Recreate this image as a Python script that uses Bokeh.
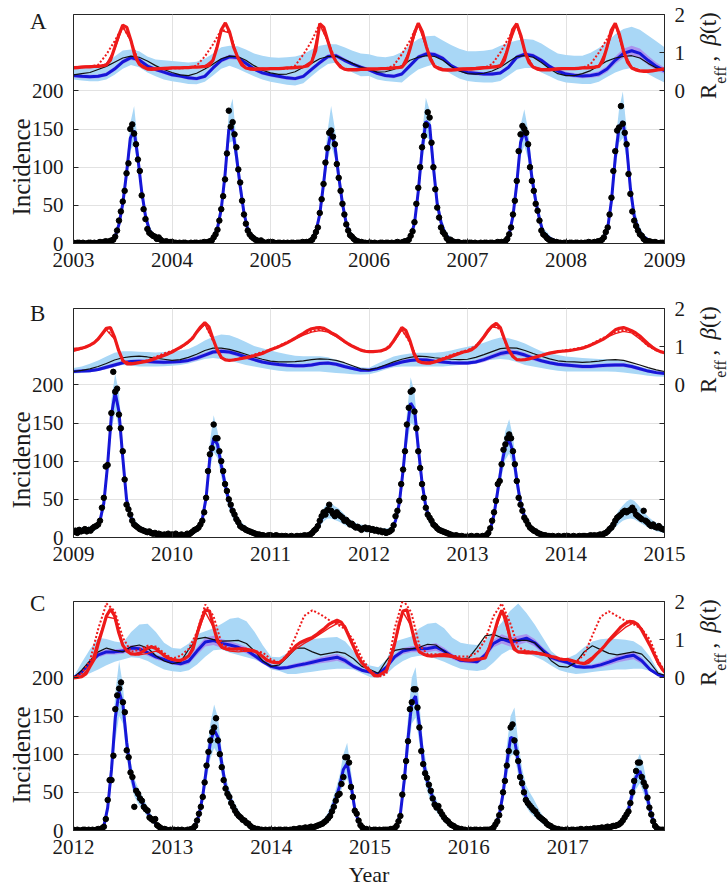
import numpy as np
from bokeh.plotting import figure
from bokeh.models import Range1d, LinearAxis, FixedTicker, Div
from bokeh.layouts import column
from bokeh.embed import file_html
from bokeh.resources import INLINE

# ======================= DATA =======================
# ---- Panel A (2003-2009) ----
A_years = [2003, 2004, 2005, 2006, 2007, 2008, 2009]
A_obs = [
 1,0,1,1,0,1,0,0,1,1,0,1,0,1,2,1,2,3,2,3,4,5,9,17,30,42,55,69,92,105,150,156,144,130,110,95,63,45,32,19,14,12,10,9,6,8,5,3,2,3,1,2,
 2,1,1,0,1,0,1,1,0,0,1,0,1,1,0,1,1,2,1,2,3,4,8,12,18,30,45,62,84,118,174,153,159,143,126,97,80,56,38,26,17,12,9,7,5,4,3,4,2,1,1,2,
 1,2,1,0,1,1,0,1,0,1,0,1,1,0,1,1,1,2,1,2,2,3,5,9,15,21,40,58,78,106,125,145,148,140,130,104,86,69,52,38,25,17,11,9,6,4,3,2,2,1,1,0,
 1,1,0,1,0,0,1,1,0,1,1,0,1,0,1,2,1,1,2,3,3,5,10,16,28,52,73,100,126,141,155,172,165,132,100,71,47,34,21,15,12,7,4,5,3,2,1,2,1,0,1,1,
 0,1,1,0,1,0,0,1,0,1,1,0,1,1,0,1,2,1,2,2,3,6,12,21,38,56,82,121,143,154,150,145,130,100,82,69,52,43,30,17,12,10,7,5,4,3,2,2,1,1,0,1,
 1,0,1,1,0,1,1,0,1,0,1,1,2,1,1,2,2,3,3,5,8,15,21,38,60,95,121,148,152,180,157,145,130,91,65,42,30,23,17,12,10,6,4,3,3,2,1,2,1,0,1,1,
 1]
A_fit = [
 1,1,1,1,1,1,1,1,2,2,3,9,25,52,92,138,148,112,68,36,18,10,6,4,2,1,
 1,1,1,1,1,1,1,1,1,2,3,8,20,45,90,150,150,115,75,40,18,10,6,4,3,2,
 1,1,1,1,1,1,1,1,1,2,3,6,16,38,78,122,146,128,88,52,26,12,7,4,2,1,
 1,1,1,1,1,1,1,1,1,2,4,10,26,68,122,160,155,100,52,28,14,7,4,3,2,1,
 1,1,1,1,1,1,1,1,1,2,4,12,36,78,132,148,128,86,56,32,14,10,6,4,2,1,
 1,1,1,1,1,1,1,1,2,3,8,20,56,112,152,160,128,72,36,20,11,7,4,2,2,1,
 1]
A_band_hi = [
 2,2,2,2,2,2,2,2,3,4,6,14,33,62,105,158,180,130,80,44,24,14,9,6,4,2,
 3,2,2,2,2,2,2,2,2,3,5,12,28,56,105,172,190,135,90,50,25,14,9,6,5,3,
 2,2,2,2,2,2,2,2,2,3,5,10,23,48,92,145,180,150,104,64,35,18,10,6,4,2,
 2,2,2,2,2,2,2,2,2,3,6,15,35,82,142,191,175,118,64,36,20,11,7,5,3,2,
 2,2,2,2,2,2,2,2,2,3,6,17,45,92,155,176,148,102,68,42,20,15,9,6,4,2,
 2,2,2,2,2,2,2,2,3,5,12,27,68,130,176,199,150,88,48,28,16,10,6,4,3,2,
 2]
A_band_lo = [
 0,0,0,0,0,0,0,0,1,1,1,5,18,42,80,122,130,98,58,28,12,6,3,2,1,0,
 0,0,0,0,0,0,0,0,0,1,1,5,14,36,76,132,134,100,62,32,12,6,3,2,1,1,
 0,0,0,0,0,0,0,0,0,1,1,3,10,30,66,106,128,112,74,42,19,7,4,2,1,0,
 0,0,0,0,0,0,0,0,0,1,2,6,19,56,104,140,136,86,42,21,9,4,2,1,1,0,
 0,0,0,0,0,0,0,0,0,1,2,8,28,66,114,128,110,72,46,25,10,6,3,2,1,0,
 0,0,0,0,0,0,0,0,1,2,5,14,44,96,132,138,110,58,28,14,7,4,2,1,1,0,
 0]
A_blue = [
 .40,.38,.37,.38,.43,.57,.76,.87,.81,.65,.56,.49,
 .42,.39,.34,.32,.38,.60,.80,.89,.87,.72,.57,.47,
 .42,.38,.34,.32,.38,.56,.74,.90,.92,.80,.70,.62,
 .55,.46,.40,.38,.44,.66,.88,.97,.95,.85,.66,.55,
 .48,.46,.44,.44,.47,.62,.88,.96,.92,.80,.64,.52,
 .44,.41,.39,.40,.44,.57,.80,.98,1.05,.98,.80,.64,
 .53]
A_black = [
 .42,.45,.48,.56,.64,.75,.86,.91,.88,.78,.66,.56,
 .48,.42,.40,.46,.57,.70,.84,.91,.90,.80,.66,.54,
 .47,.43,.44,.50,.62,.72,.84,.90,.91,.82,.72,.62,
 .57,.49,.50,.56,.66,.80,.88,.92,.90,.80,.64,.52,
 .45,.44,.46,.52,.62,.76,.90,.92,.88,.74,.58,.45,
 .40,.40,.45,.53,.66,.78,.86,.90,.92,.86,.72,.60,
 .53]
A_purple_hw = [
 .05,.05,.05,.05,.05,.06,.06,.06,.06,.06,.05,.05,
 .05,.05,.05,.05,.05,.06,.06,.06,.06,.06,.05,.05,
 .05,.05,.05,.05,.05,.06,.06,.06,.06,.06,.05,.05,
 .05,.05,.05,.05,.05,.06,.06,.06,.06,.06,.05,.05,
 .05,.05,.05,.05,.05,.06,.06,.06,.06,.06,.05,.05,
 .06,.06,.06,.06,.07,.08,.10,.12,.13,.13,.12,.10,
 .08]
A_lb_hi = [
 .60,.62,.64,.66,.72,.90,1.06,1.08,1.04,.90,.82,.80,
 .78,.76,.74,.76,.84,.98,1.14,1.18,1.17,1.08,.98,.92,
 .88,.87,.88,.90,.96,1.08,1.18,1.22,1.22,1.14,1.05,.98,
 .96,.90,.88,.92,1.02,1.20,1.36,1.43,1.44,1.32,1.20,1.10,
 1.04,1.04,1.05,1.08,1.18,1.26,1.32,1.36,1.34,1.24,1.10,.98,
 .94,.92,.92,1.00,1.12,1.28,1.48,1.62,1.68,1.60,1.45,1.30,
 1.14]
A_lb_lo = [
 .30,.27,.25,.25,.30,.42,.58,.68,.62,.48,.38,.30,
 .25,.22,.18,.17,.24,.40,.58,.66,.58,.48,.38,.30,
 .24,.20,.16,.14,.20,.38,.56,.70,.74,.62,.48,.38,
 .39,.30,.26,.24,.22,.40,.56,.64,.70,.58,.44,.32,
 .26,.23,.22,.22,.26,.40,.55,.60,.60,.48,.38,.28,
 .22,.20,.18,.18,.24,.36,.48,.56,.60,.58,.44,.32,
 .22]
A_red = [
 .60,.61,.62,.63,.63,.64,.64,.65,.68,.80,1.12,1.45,1.72,1.66,1.32,.90,.70,.62,.57,.56,.57,.58,.58,.59,
 .60,.60,.60,.61,.61,.62,.62,.63,.64,.66,.80,1.15,1.60,1.78,1.55,1.15,.88,.68,.60,.57,.56,.57,.57,.57,
 .58,.58,.58,.59,.60,.60,.61,.62,.63,.65,.75,1.05,1.76,1.66,1.30,.95,.76,.63,.57,.55,.55,.55,.56,.56,
 .57,.57,.57,.58,.58,.59,.60,.61,.62,.75,1.10,1.50,1.77,1.55,1.15,.82,.64,.58,.55,.54,.54,.55,.56,.57,
 .57,.57,.58,.59,.60,.61,.62,.63,.65,.80,1.18,1.60,1.76,1.45,1.02,.74,.62,.57,.55,.55,.55,.56,.57,.58,
 .58,.58,.58,.59,.60,.60,.61,.62,.64,.78,1.15,1.58,1.77,1.48,1.05,.75,.60,.55,.52,.51,.51,.52,.54,.56,
 .57]
A_red_thin = [
 .63,.64,.65,.66,.70,1.08,1.68,1.30,.72,.60,.60,.61,
 .61,.61,.62,.62,.65,.82,1.58,1.52,.88,.61,.59,.60,
 .59,.60,.60,.61,.64,.78,1.74,1.28,.76,.58,.58,.58,
 .59,.59,.60,.61,.64,1.08,1.74,1.13,.66,.58,.57,.59,
 .60,.61,.63,.64,.68,1.16,1.74,1.00,.64,.58,.58,.60,
 .60,.60,.61,.62,.66,1.12,1.74,1.03,.62,.55,.54,.57,
 .59]
A_red_dot = [
 .62,.62,.63,.68,.95,1.30,1.68,1.32,.70,.57,.57,.58,
 .59,.59,.60,.66,.90,1.22,1.60,1.55,.88,.60,.56,.57,
 .57,.57,.58,.66,.95,1.30,1.76,1.30,.76,.57,.55,.56,
 .57,.57,.58,.66,.96,1.32,1.77,1.15,.64,.55,.54,.56,
 .58,.58,.60,.70,1.00,1.38,1.76,1.02,.62,.55,.55,.57,
 .58,.58,.60,.70,1.00,1.36,1.77,1.05,.60,.52,.51,.54,
 .57]

# ---- Panel B (2009-2015) ----
B_years = [2009, 2010, 2011, 2012, 2013, 2014, 2015]
B_obs = [
 7,9,6,10,8,9,11,8,10,9,12,14,15,17,22,39,52,93,95,143,163,217,191,195,161,143,113,76,43,37,30,22,17,15,13,11,10,9,8,7,8,6,5,6,4,5,4,3,4,3,5,3,
 4,3,5,2,3,4,2,3,5,4,6,8,10,11,13,17,22,33,52,87,109,117,148,130,130,113,100,87,70,61,50,43,35,30,24,20,15,13,12,10,9,8,7,6,5,4,4,3,3,2,2,3,
 3,2,2,3,2,1,2,1,2,1,1,2,1,1,2,1,2,2,3,2,3,4,6,9,11,15,22,28,33,30,36,43,35,31,28,33,30,28,26,22,23,20,17,18,15,13,14,12,10,12,13,11,
 12,10,11,9,10,8,9,7,8,6,7,8,10,16,28,35,48,70,89,113,148,170,191,193,165,143,113,91,70,52,39,30,26,22,17,15,12,10,9,8,7,6,5,4,3,2,3,2,1,2,1,1,
 1,1,2,1,1,2,1,1,2,2,3,6,12,22,33,48,70,74,96,115,122,130,135,130,113,96,74,52,43,35,26,22,17,13,11,9,8,6,5,4,3,3,2,2,1,2,1,1,2,1,1,2,
 1,2,1,1,2,1,1,2,1,2,2,1,2,3,2,3,2,3,4,3,5,6,8,11,13,17,22,26,28,30,33,35,33,35,36,39,35,30,28,26,24,35,22,20,17,15,17,14,13,15,12,11,
 10]
B_fit = [
 8,8,9,9,10,11,14,22,45,95,160,190,165,105,50,28,18,13,10,8,7,6,5,5,4,4,
 4,4,3,3,4,5,8,13,24,52,105,130,122,95,70,48,34,24,16,12,9,7,5,4,3,3,
 3,2,2,2,2,2,2,2,2,3,4,6,11,20,29,34,34,31,29,25,21,18,15,13,12,11,
 11,10,9,8,8,8,10,22,45,88,140,176,168,118,72,40,25,17,12,9,7,5,4,3,2,1,
 1,1,1,1,1,3,10,30,62,95,120,128,112,76,45,28,18,11,8,5,4,3,2,2,1,1,
 1,1,1,1,1,2,2,2,3,3,5,8,13,20,26,31,34,35,34,30,26,22,18,15,13,11,
 10]
B_band_hi = [
 12,12,13,13,14,15,18,28,55,110,180,215,190,122,62,36,24,18,14,12,10,9,8,7,7,6,
 6,6,5,5,6,7,11,17,30,62,125,160,140,110,82,58,42,31,22,17,13,10,8,6,5,5,
 5,4,4,4,4,4,4,4,4,5,6,9,15,26,38,45,45,41,38,33,28,24,21,18,17,16,
 16,14,13,12,12,12,14,28,55,102,162,210,190,135,85,50,32,23,17,13,10,8,6,5,4,3,
 2,2,2,2,2,5,14,37,74,110,140,155,132,90,55,35,24,15,11,8,6,5,4,3,2,2,
 2,2,2,2,2,3,3,3,5,5,8,12,19,28,36,42,47,50,48,43,37,31,26,22,19,16,
 15]
B_band_lo = [
 5,5,6,6,7,7,10,16,36,80,140,165,142,90,40,21,13,9,7,5,4,4,3,3,2,2,
 2,2,2,2,2,3,5,9,18,42,88,112,104,80,58,38,26,17,11,8,6,4,3,2,2,1,
 1,1,1,1,1,1,1,1,1,1,2,3,7,14,21,25,25,23,21,18,15,13,10,9,8,7,
 7,6,6,5,5,5,7,16,36,74,120,150,146,100,60,31,18,12,8,6,4,3,2,1,1,0,
 0,0,0,0,0,1,6,23,50,80,102,110,94,62,36,21,12,7,5,3,2,1,1,0,0,0,
 0,0,0,0,0,1,1,1,1,1,2,4,8,13,18,22,24,25,24,21,18,15,12,10,8,7,
 6]
B_blue = [
 .35,.36,.37,.40,.46,.52,.58,.61,.62,.61,.60,.59,
 .60,.61,.64,.70,.78,.86,.88,.86,.80,.73,.66,.60,
 .56,.53,.51,.50,.50,.52,.56,.57,.54,.48,.43,.38,
 .38,.42,.48,.54,.60,.64,.66,.65,.62,.60,.58,.57,
 .57,.60,.66,.74,.82,.86,.84,.78,.70,.63,.58,.54,
 .52,.50,.48,.48,.50,.51,.52,.52,.48,.42,.36,.32,
 .30]
B_black = [
 .35,.38,.42,.48,.56,.65,.71,.74,.75,.73,.70,.67,
 .64,.66,.72,.80,.90,.96,.96,.93,.87,.80,.73,.67,
 .62,.60,.60,.61,.63,.66,.68,.67,.64,.58,.50,.42,
 .39,.44,.52,.60,.67,.72,.75,.74,.71,.69,.67,.66,
 .67,.72,.79,.87,.95,.97,.96,.90,.82,.75,.68,.63,
 .61,.60,.59,.60,.62,.65,.66,.64,.58,.52,.45,.39,
 .35]
B_purple_hw = [
 .04,.04,.04,.04,.05,.05,.05,.05,.05,.05,.05,.05,
 .05,.05,.05,.06,.06,.06,.06,.06,.06,.05,.05,.05,
 .05,.05,.05,.05,.05,.05,.05,.05,.05,.05,.04,.04,
 .04,.04,.05,.05,.05,.05,.05,.05,.05,.05,.05,.05,
 .05,.05,.06,.06,.07,.07,.07,.06,.06,.05,.05,.05,
 .05,.05,.05,.05,.05,.05,.05,.05,.05,.05,.04,.04,
 .04]
B_lb_hi = [
 .44,.48,.55,.64,.74,.84,.88,.88,.87,.86,.85,.86,
 .88,.90,.94,1.04,1.16,1.26,1.32,1.30,1.22,1.12,1.02,.96,
 .90,.85,.80,.76,.75,.75,.75,.72,.65,.58,.50,.46,
 .45,.55,.65,.74,.79,.82,.84,.84,.84,.86,.90,.95,
 1.00,1.04,1.10,1.18,1.24,1.22,1.16,1.08,.98,.88,.82,.78,
 .74,.72,.70,.69,.68,.67,.66,.62,.55,.48,.42,.38,
 .35]
B_lb_lo = [
 .30,.31,.33,.36,.42,.48,.52,.50,.48,.48,.48,.49,
 .50,.52,.56,.62,.68,.70,.68,.64,.58,.52,.48,.44,
 .40,.37,.35,.35,.35,.35,.35,.33,.31,.30,.28,.27,
 .28,.33,.40,.46,.48,.48,.48,.48,.48,.48,.50,.52,
 .55,.58,.64,.66,.68,.66,.60,.52,.48,.44,.40,.37,
 .35,.35,.35,.35,.35,.35,.34,.32,.30,.27,.24,.22,
 .21]
B_red = [
 .93,.94,.96,.99,1.04,1.10,1.20,1.34,1.48,1.50,1.25,.90,.64,.55,.55,.56,.58,.60,.62,.65,.69,.73,.77,.81,
 .86,.92,.98,1.05,1.13,1.22,1.38,1.52,1.63,1.52,1.20,.92,.72,.65,.64,.65,.67,.69,.71,.73,.76,.79,.82,.87,
 .92,.96,1.00,1.05,1.10,1.16,1.22,1.29,1.35,1.42,1.47,1.49,1.50,1.48,1.42,1.35,1.30,1.22,1.14,1.07,1.01,.96,.91,.88,
 .87,.87,.88,.89,.93,1.00,1.15,1.32,1.50,1.42,1.15,.80,.62,.58,.57,.57,.60,.63,.67,.71,.74,.78,.82,.86,
 .88,.92,1.00,1.12,1.26,1.42,1.54,1.61,1.50,1.20,.92,.75,.66,.65,.66,.68,.71,.74,.77,.80,.83,.85,.87,.88,
 .89,.90,.92,.94,.96,1.00,1.04,1.09,1.14,1.19,1.26,1.35,1.44,1.48,1.50,1.46,1.42,1.36,1.28,1.18,1.08,.99,.92,.87,
 .84]
B_red_thin = [
 .88,.94,1.02,1.18,1.44,1.20,.62,.57,.60,.64,.72,.80,
 .88,.96,1.10,1.36,1.58,1.18,.70,.65,.68,.72,.78,.85,
 .92,1.00,1.10,1.20,1.30,1.38,1.42,1.38,1.26,1.12,1.00,.91,
 .86,.87,.92,1.12,1.44,1.12,.62,.58,.62,.69,.77,.84,
 .90,1.00,1.24,1.52,1.48,.90,.66,.66,.71,.77,.82,.86,
 .90,.93,.97,1.04,1.14,1.25,1.34,1.40,1.36,1.20,1.02,.90,
 .84]
B_red_dot = [
 .90,.96,1.04,1.20,1.46,1.22,.63,.57,.59,.64,.73,.82,
 .89,.97,1.12,1.38,1.60,1.16,.70,.64,.68,.73,.79,.86,
 .93,1.02,1.12,1.22,1.33,1.41,1.45,1.42,1.30,1.14,1.01,.92,
 .87,.88,.93,1.14,1.46,1.10,.62,.58,.62,.70,.78,.85,
 .91,1.02,1.26,1.54,1.46,.88,.66,.66,.72,.78,.83,.87,
 .91,.94,.98,1.06,1.17,1.28,1.38,1.44,1.40,1.22,1.02,.90,
 .85]

# ---- Panel C (2012-2018) ----
C_years = [2012, 2013, 2014, 2015, 2016, 2017]
C_obs = [
 1,0,1,0,0,1,1,0,1,0,1,0,1,2,1,3,5,15,40,66,66,98,159,177,186,194,168,155,105,96,76,70,31,52,48,42,39,31,28,26,17,15,13,15,7,5,3,2,2,1,0,1,
 0,1,0,1,0,1,0,0,1,1,2,3,6,13,22,31,44,63,85,103,118,129,135,147,118,100,83,66,55,48,44,36,31,26,22,19,17,14,13,10,9,6,4,3,2,2,1,1,0,1,0,1,
 1,0,1,0,1,1,0,1,1,0,1,1,2,1,2,3,2,3,4,3,4,5,4,5,6,7,8,9,11,13,16,19,25,31,39,46,48,61,70,96,96,89,57,44,26,22,13,7,4,2,2,1,
 1,0,1,1,0,1,0,1,1,1,1,2,2,3,6,12,19,47,70,91,117,159,168,185,185,161,135,104,87,75,69,60,52,42,34,30,32,25,21,17,14,12,9,7,6,4,3,2,2,1,1,0,
 0,1,0,1,1,0,1,0,1,1,1,1,2,4,8,12,20,30,50,65,85,104,135,139,118,102,91,70,62,50,40,36,33,30,27,25,21,18,16,14,12,9,7,6,4,3,2,2,1,1,0,1,
 1,0,1,1,0,1,1,2,1,1,2,1,2,2,3,2,3,3,4,3,4,5,4,5,6,6,7,8,10,13,17,21,25,36,50,65,78,89,89,70,63,58,43,30,21,12,6,3,1,1,1,1]
C_fit = [
 1,1,1,1,1,1,1,2,6,30,80,148,182,165,115,78,56,45,37,28,19,13,7,3,2,1,
 1,1,1,1,1,2,6,20,45,82,115,132,122,88,58,44,32,23,17,12,8,5,3,2,1,1,
 1,1,1,1,1,1,2,2,3,3,4,5,6,8,11,17,28,42,58,80,88,60,28,11,4,2,
 1,1,1,1,1,1,2,6,22,65,120,168,176,138,92,66,50,37,28,20,14,9,5,3,2,1,
 1,1,1,1,1,1,3,8,20,48,88,122,120,90,62,44,34,28,22,16,11,7,4,2,1,1,
 1,1,1,1,1,2,2,3,3,4,4,5,6,7,10,16,27,48,70,78,64,42,20,7,2,1]
C_band_hi = [
 2,2,2,2,2,2,2,4,10,42,100,180,222,190,132,92,68,56,46,36,25,17,10,5,3,2,
 2,2,2,2,2,3,9,28,58,100,140,165,148,104,70,54,40,30,22,16,11,7,5,3,2,2,
 2,2,2,2,2,2,3,3,5,5,6,8,9,12,16,24,38,54,72,100,115,78,38,16,7,3,
 2,2,2,2,2,2,3,9,30,82,148,200,214,165,112,82,62,46,35,26,19,12,7,4,3,2,
 2,2,2,2,2,2,5,12,28,62,112,150,161,115,82,60,50,42,32,23,16,10,6,3,2,2,
 2,2,2,2,2,3,3,4,5,6,6,7,8,10,14,22,37,62,88,101,84,58,30,12,4,2]
C_band_lo = [
 0,0,0,0,0,0,0,1,3,20,62,118,150,140,96,64,45,35,29,21,14,9,4,2,1,0,
 0,0,0,0,0,1,3,13,34,66,94,108,100,72,46,35,25,17,12,8,5,3,2,1,0,0,
 0,0,0,0,0,0,1,1,1,1,2,3,3,5,7,11,19,31,45,62,68,45,20,7,2,1,
 0,0,0,0,0,0,1,3,15,50,96,140,148,114,74,52,38,28,21,14,9,6,3,2,1,0,
 0,0,0,0,0,0,1,5,13,36,68,98,100,72,46,32,24,19,15,10,7,4,2,1,0,0,
 0,0,0,0,0,1,1,2,2,2,3,3,4,5,7,11,19,36,54,62,48,30,12,3,1,0]
C_blue = [
 .00,.15,.40,.60,.68,.68,.70,.78,.76,.66,.55,.48,
 .40,.37,.44,.70,.94,.98,.90,.86,.80,.72,.58,.42,
 .30,.25,.27,.32,.36,.41,.46,.50,.54,.45,.30,.20,
 .15,.10,.28,.55,.70,.75,.76,.77,.81,.70,.56,.46,
 .44,.42,.60,.90,1.02,.94,.98,1.04,.92,.72,.54,.46,
 .40,.30,.28,.29,.34,.41,.49,.55,.59,.45,.22,.08,
 .02]
C_black = [
 .00,.20,.45,.68,.78,.72,.68,.82,.86,.78,.58,.44,
 .37,.42,.75,1.02,1.06,1.00,.96,.97,.98,.90,.70,.44,
 .30,.34,.55,.78,.78,.68,.60,.64,.68,.64,.50,.30,
 .22,.12,.45,.72,.76,.76,.80,.88,.86,.70,.54,.50,
 .52,.80,1.10,1.14,1.05,1.00,.98,.98,.92,.70,.45,.30,
 .28,.40,.68,.84,.74,.64,.60,.64,.68,.62,.40,.12,
 .05]
C_purple_hw = [
 .02,.04,.06,.07,.07,.07,.07,.08,.08,.08,.07,.06,
 .06,.06,.08,.10,.12,.12,.12,.10,.09,.08,.07,.06,
 .05,.05,.05,.06,.06,.07,.08,.09,.09,.08,.06,.05,
 .04,.03,.05,.07,.08,.08,.09,.10,.10,.09,.07,.06,
 .06,.06,.08,.10,.12,.12,.12,.11,.10,.08,.07,.06,
 .05,.05,.05,.06,.07,.08,.09,.10,.10,.08,.05,.03,
 .02]
C_lb_hi = [
 .02,.40,.75,1.05,1.02,.95,.92,1.20,1.40,1.42,1.20,.92,
 .78,.76,.90,1.14,1.22,1.30,1.42,1.55,1.58,1.48,1.20,.85,
 .55,.54,.65,.80,.95,1.02,1.04,1.06,1.07,.95,.70,.45,
 .32,.28,.48,.95,1.02,1.08,1.30,1.42,1.44,1.30,1.05,.92,
 .88,.86,1.00,1.22,1.45,1.75,1.95,1.70,1.40,1.05,.70,.52,
 .52,.62,.80,.95,1.01,1.03,1.02,1.00,.96,.82,.55,.18,
 .05]
C_lb_lo = [
 .00,.05,.12,.22,.33,.42,.48,.54,.52,.44,.32,.22,
 .17,.15,.20,.35,.55,.72,.74,.66,.60,.54,.48,.38,
 .22,.18,.10,.10,.13,.16,.19,.22,.24,.24,.22,.12,
 .02,.00,.10,.30,.44,.54,.58,.58,.50,.42,.32,.24,
 .20,.18,.22,.40,.62,.74,.70,.66,.56,.46,.32,.20,
 .14,.10,.12,.15,.18,.20,.22,.22,.24,.24,.18,.05,
 .00]
C_red = [
 .00,.01,.03,.10,.30,.48,.90,1.25,1.62,1.80,1.62,1.18,.85,.70,.63,.62,.64,.70,.78,.81,.77,.68,.58,.52,
 .48,.46,.46,.50,.58,.75,1.15,1.50,1.78,1.75,1.35,.95,.80,.76,.75,.75,.76,.76,.75,.73,.70,.64,.55,.46,
 .42,.40,.40,.48,.60,.72,.84,.92,.97,1.02,1.06,1.13,1.22,1.30,1.40,1.46,1.51,1.46,1.30,1.06,.82,.58,.40,.28,
 .18,.06,.05,.12,.19,.50,.90,1.38,1.75,1.78,1.35,.90,.68,.62,.58,.57,.58,.60,.61,.60,.56,.52,.49,.47,
 .46,.47,.49,.50,.52,.80,1.12,1.50,1.77,1.55,1.05,.75,.68,.68,.68,.67,.66,.64,.62,.59,.56,.54,.50,.48,
 .48,.45,.42,.39,.37,.40,.50,.62,.72,.84,.98,1.10,1.22,1.34,1.42,1.48,1.47,1.40,1.25,1.05,.85,.62,.40,.22,
 .10]
C_red_thin = [
 .00,.05,.30,1.00,1.60,1.55,.85,.62,.60,.64,.70,.60,
 .50,.46,.58,1.12,1.72,1.32,.78,.70,.68,.70,.68,.56,
 .42,.40,.58,.76,.90,1.02,1.16,1.30,1.42,1.36,.86,.40,
 .16,.05,.18,.88,1.72,1.36,.66,.58,.56,.56,.54,.50,
 .48,.48,.52,1.08,1.74,1.02,.66,.63,.63,.60,.55,.50,
 .46,.40,.40,.55,.74,.94,1.14,1.32,1.44,1.30,.85,.35,
 .12]
C_red_dot = [
 .00,.12,.45,1.28,1.95,1.75,1.05,.68,.74,.84,.82,.65,
 .50,.58,.76,1.20,1.92,1.62,.88,.76,.74,.72,.70,.66,
 .48,.40,.62,1.10,1.62,1.77,1.66,1.52,1.40,1.28,.98,.52,
 .20,.02,.10,1.30,2.05,1.72,.85,.62,.62,.60,.58,.56,
 .56,.66,1.00,1.62,1.95,1.45,.80,.70,.68,.62,.55,.48,
 .50,.42,.60,1.11,1.60,1.74,1.62,1.50,1.40,1.28,1.00,.45,
 .10]

PANEL_LETTERS = ["A", "B", "C"]
Y_LABEL = "Incidence"
X_LABEL = "Year"

# ======================= STYLE =======================
FONT = "Liberation Serif"
TXT = "#1a1a1a"
AXC = "#262626"
LB = "#a9d7f6"
PURPLE = "#ab8ded"
BLUE = "#1616d8"
RED = "#ee1a1a"
GRID = "#e2e2e2"
TICK_SIZE = "21px"


def tgrid(start, vals, per_year):
    return start + np.arange(len(vals)) / per_year


def style_axis(a, standoff):
    a.major_tick_in = 5
    a.major_tick_out = 0
    a.minor_tick_line_color = None
    a.axis_line_color = AXC
    a.major_tick_line_color = AXC
    a.major_label_text_font = FONT
    a.major_label_text_font_size = TICK_SIZE
    a.major_label_text_color = TXT
    a.major_label_standoff = standoff


def make_panel(years, x_end, obs, fit, band_lo, band_hi, blue, black, pw,
               lb_lo, lb_hi, red, red_thin, red_dot, height, b_top, b_bottom, xlabel=None):
    start = years[0]
    p = figure(width=728, height=height, x_range=Range1d(start, x_end), y_range=Range1d(0, 300),
               output_backend="svg", toolbar_location=None,
               min_border_left=73, min_border_right=64, min_border_top=b_top, min_border_bottom=b_bottom)
    p.extra_y_ranges = {"r": Range1d(-4, 2)}
    p.outline_line_color = AXC
    p.outline_line_width = 1

    ax = p.xaxis[0]
    ax.ticker = FixedTicker(ticks=years)
    style_axis(ax, 9)
    ay = p.yaxis[0]
    ay.ticker = FixedTicker(ticks=[0, 50, 100, 150, 200])
    style_axis(ay, 10)
    if xlabel:
        ax.axis_label = xlabel
        ax.axis_label_text_font = FONT
        ax.axis_label_text_font_size = "22px"
        ax.axis_label_text_font_style = "normal"
        ax.axis_label_text_color = TXT
        ax.axis_label_standoff = 5

    ar = LinearAxis(y_range_name="r", ticker=FixedTicker(ticks=[-3, -2, -1, 0, 1, 2]),
                    major_label_overrides={-3: "", -2: "", -1: "", 0: "0", 1: "1", 2: "2"})
    style_axis(ar, 10)
    p.add_layout(ar, "right")

    p.xgrid.ticker = FixedTicker(ticks=years)
    p.ygrid.ticker = FixedTicker(ticks=[0, 50, 100, 150, 200])
    p.xgrid.grid_line_color = GRID
    p.ygrid.grid_line_color = GRID

    tm = tgrid(start, blue, 12)
    th = tgrid(start, red, 24)
    t2 = tgrid(start, fit, 26)
    tw = tgrid(start, obs, 52)
    blue_a = np.array(blue)
    pw_a = np.array(pw)

    # upper part: R_eff and beta(t) on the right-hand scale
    p.varea(x=tm, y1=lb_lo, y2=lb_hi, y_range_name="r", fill_color=LB)
    # lower part band
    p.varea(x=t2, y1=band_lo, y2=band_hi, fill_color=LB)
    p.varea(x=tm, y1=blue_a - pw_a, y2=blue_a + pw_a, y_range_name="r", fill_color=PURPLE, fill_alpha=0.9)
    p.line(tm, blue, y_range_name="r", line_color=BLUE, line_width=3)
    p.line(tm, black, y_range_name="r", line_color="#111111", line_width=1.2)
    p.line(tgrid(start, red_dot, 12), red_dot, y_range_name="r", line_color=RED, line_width=2,
           line_dash="2 2")
    p.line(tgrid(start, red_thin, 12), red_thin, y_range_name="r", line_color=RED, line_width=1.4)
    p.line(th, red, y_range_name="r", line_color=RED, line_width=3.2)

    # lower part: incidence
    p.line(t2, fit, line_color=BLUE, line_width=3)
    p.scatter(tw, obs, size=5.5, marker="circle", fill_color="black", line_color="black")
    return p


# frames: A 14-243, B 308-537, C 601-830 (page pixels)
pA = make_panel(A_years, 2009, A_obs, A_fit, A_band_lo, A_band_hi, A_blue, A_black, A_purple_hw,
                A_lb_lo, A_lb_hi, A_red, A_red_thin, A_red_dot, 280, 14, 37)
pB = make_panel(B_years, 2015, B_obs, B_fit, B_band_lo, B_band_hi, B_blue, B_black, B_purple_hw,
                B_lb_lo, B_lb_hi, B_red, B_red_thin, B_red_dot, 294, 28, 37)
pC = make_panel(C_years, 2017.98, C_obs, C_fit, C_band_lo, C_band_hi, C_blue, C_black, C_purple_hw,
                C_lb_lo, C_lb_hi, C_red, C_red_thin, C_red_dot, 319, 27, 63, xlabel=X_LABEL)

# ---- text labels outside the plot frames (HTML overlay, real text) ----
frame_tops = [14, 308, 601]
letter_baselines = [24, 316, 606]
inc_centers = [162, 455, 750]
spans = []
for L, bl in zip(PANEL_LETTERS, letter_baselines):
    spans.append('<span style="position:absolute;left:25px;top:%.1fpx;font-size:23px;line-height:1;'
                 'white-space:nowrap;">%s</span>' % (bl - 19.3, L))
for c in inc_centers:
    spans.append('<span style="position:absolute;left:4px;top:%dpx;width:200px;text-align:center;'
                 'font-size:25px;line-height:1;white-space:nowrap;transform-origin:0 0;'
                 'transform:rotate(-90deg);">%s</span>' % (c + 100, Y_LABEL))
for ft in frame_tops:
    spans.append('<span style="position:absolute;left:692px;top:%dpx;font-size:23px;line-height:1;'
                 'white-space:nowrap;transform-origin:0 0;transform:rotate(-90deg);">R'
                 '<span style="font-size:16px;position:relative;top:10px;">eff</span>'
                 '&thinsp;,&nbsp;&thinsp;<i>\u03b2</i>(t)</span>' % (ft + 80))
html = ('<div style="position:relative;width:728px;height:893px;font-family:\'Liberation Serif\',serif;'
        'color:#1a1a1a;">' + "".join(spans) + '</div>')
overlay = Div(text=html, width=728, height=893,
              styles={"position": "absolute", "left": "0px", "top": "0px", "z-index": "10",
                      "pointer-events": "none"})

layout = column(pA, pB, pC, overlay, spacing=0)
open("out.html", "w").write(file_html(layout, INLINE))
